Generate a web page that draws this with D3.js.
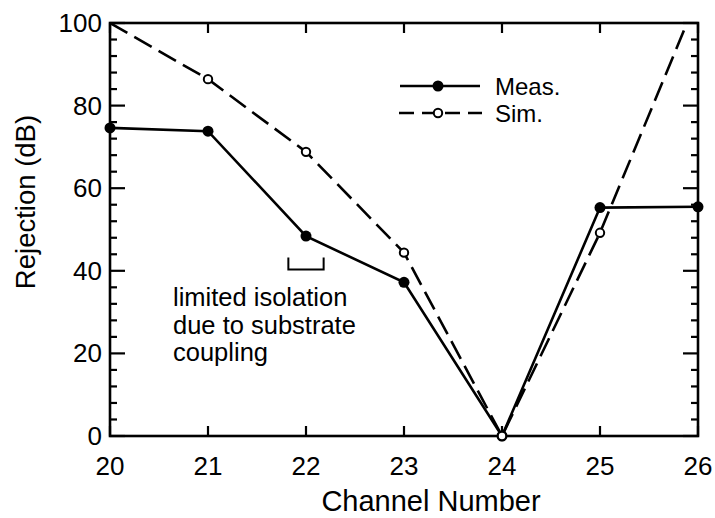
<!DOCTYPE html>
<html><head><meta charset="utf-8">
<script src="https://cdn.jsdelivr.net/npm/d3@7"></script>
<style>body{margin:0;background:#fff}svg{display:block}text{font-family:"Liberation Sans",Arial,sans-serif;fill:#000}</style>
</head><body><svg id="c" width="715" height="518"></svg>
<script>
const channels = [20, 21, 22, 23, 24, 25, 26];
const measured = [74.6, 73.8, 48.4, 37.2, 0, 55.3, 55.5];
const simulated = [100, 86.4, 68.8, 44.4, 0, 49.2, 106.4];
const xTicks = [20, 21, 22, 23, 24, 25, 26];
const yTicks = [0, 20, 40, 60, 80, 100];
const yMinor = d3.range(0, 101, 4);
const annotationLines = ["limited isolation", "due to substrate", "coupling"];

const svg = d3.select("#c");
const L = 110, R = 698, T = 23, B = 436;
const x = d3.scaleLinear().domain([20, 26]).range([L, R]);
const y = d3.scaleLinear().domain([0, 100]).range([B, T]);

svg.append("defs").append("clipPath").attr("id", "clip")
  .append("rect").attr("x", L).attr("y", T).attr("width", R - L).attr("height", B - T);

const sw = 2.6;
// ticks
const tickG = svg.append("g").attr("stroke", "#000").attr("stroke-width", 2.2);
yMinor.forEach(v => {
  const len = (v % 20 === 0) ? 15 : 7;
  tickG.append("line").attr("x1", L).attr("x2", L + len).attr("y1", y(v)).attr("y2", y(v));
  tickG.append("line").attr("x1", R).attr("x2", R - len).attr("y1", y(v)).attr("y2", y(v));
});
xTicks.forEach(v => {
  tickG.append("line").attr("x1", x(v)).attr("x2", x(v)).attr("y1", B).attr("y2", B - 10);
  tickG.append("line").attr("x1", x(v)).attr("x2", x(v)).attr("y1", T).attr("y2", T + 10);
});
svg.append("rect").attr("x", L).attr("y", T).attr("width", R - L).attr("height", B - T)
  .attr("fill", "none").attr("stroke", "#000").attr("stroke-width", sw);

// tick labels
svg.append("g").selectAll("text").data(xTicks).join("text")
  .attr("x", d => x(d)).attr("y", 475).attr("text-anchor", "middle")
  .attr("font-size", 26).text(d => d);
svg.append("g").selectAll("text").data(yTicks).join("text")
  .attr("x", 102).attr("y", d => y(d) + 9).attr("text-anchor", "end")
  .attr("font-size", 26).text(d => d);

// axis titles
svg.append("text").attr("x", 431).attr("y", 511).attr("text-anchor", "middle")
  .attr("font-size", 29).text("Channel Number");
svg.append("text").attr("transform", `translate(35,202) rotate(-90)`)
  .attr("text-anchor", "middle").attr("font-size", 27.5).text("Rejection (dB)");

const line = d3.line().x((d, i) => x(channels[i])).y(d => y(d));
const plot = svg.append("g").attr("clip-path", "url(#clip)");
plot.append("path").datum(measured).attr("d", line).attr("fill", "none")
  .attr("stroke", "#000").attr("stroke-width", sw);
plot.append("path").datum(simulated).attr("d", line).attr("fill", "none")
  .attr("stroke", "#000").attr("stroke-width", sw).attr("stroke-dasharray", "20,8");

const pts = svg.append("g");
measured.forEach((v, i) => {
  pts.append("circle").attr("cx", x(channels[i])).attr("cy", y(v)).attr("r", 5.5).attr("fill", "#000");
});
simulated.forEach((v, i) => {
  if (v <= 100 && i > 0) pts.append("circle").attr("cx", x(channels[i])).attr("cy", y(v)).attr("r", 4.2)
    .attr("fill", "#fff").attr("stroke", "#000").attr("stroke-width", 2);
});

// legend
const lg = svg.append("g");
lg.append("line").attr("x1", 400).attr("x2", 480).attr("y1", 86).attr("y2", 86).attr("stroke", "#000").attr("stroke-width", sw);
lg.append("circle").attr("cx", 438).attr("cy", 86).attr("r", 5.5).attr("fill", "#000");
lg.append("line").attr("x1", 399).attr("x2", 482).attr("y1", 113).attr("y2", 113).attr("stroke", "#000")
  .attr("stroke-width", sw).attr("stroke-dasharray", "15,8");
lg.append("circle").attr("cx", 438).attr("cy", 113).attr("r", 4.2).attr("fill", "#fff").attr("stroke", "#000").attr("stroke-width", 2);
lg.append("text").attr("x", 495).attr("y", 95).attr("font-size", 24).text("Meas.");
lg.append("text").attr("x", 495).attr("y", 122).attr("font-size", 24).text("Sim.");

// annotation
svg.append("path")
  .attr("d", `M${x(21.82)},${y(43.2)}V${y(40.3)}H${x(22.18)}V${y(43.2)}`)
  .attr("fill", "none").attr("stroke", "#000").attr("stroke-width", 2);
svg.append("g").selectAll("text").data(annotationLines).join("text")
  .attr("x", 173).attr("y", (d, i) => 306 + i * 27.5).attr("font-size", 25.5).text(d => d);
</script></body></html>
